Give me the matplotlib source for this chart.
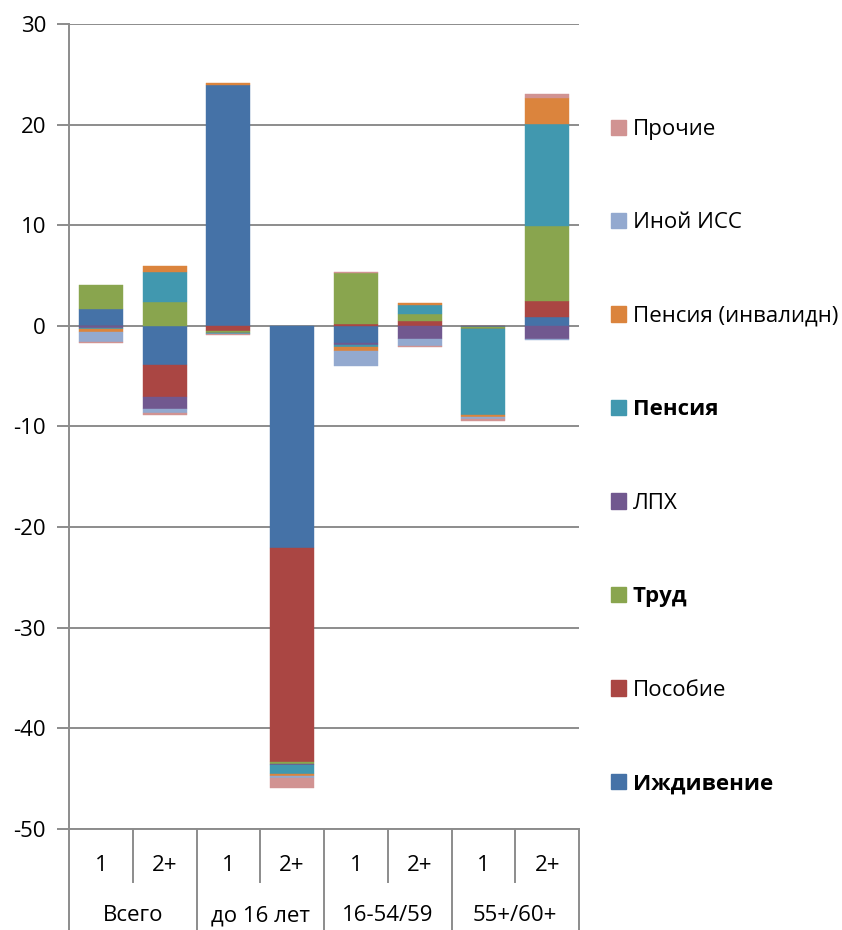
import matplotlib
matplotlib.use("Agg")
import matplotlib.pyplot as plt
from matplotlib.patches import Patch
import numpy as np

plt.rcParams['font.family'] = ['Open Sans', 'DejaVu Sans']
plt.rcParams['axes.unicode_minus'] = False

groups = ["Всего", "до 16 лет", "16-54/59", "55+/60+"]
subs = ["1", "2+"]

series_names = ["Иждивение", "Пособие", "Труд", "ЛПХ", "Пенсия",
                "Пенсия (инвалидн)", "Иной ИСС", "Прочие"]
izhdivenie = [1.65, -3.9, 23.95, -22.05, -1.75, 0.0, -0.15, 0.85]
posobie = [-0.05, -3.2, -0.55, -21.3, 0.15, 0.45, 0.0, 1.6]
trud = [2.4, 2.4, -0.15, -0.15, 5.1, 0.75, -0.15, 7.5]
lph = [-0.2, -1.15, -0.05, -0.15, -0.15, -1.35, -0.05, -1.35]
pensiya = [-0.05, 3.0, -0.05, -0.85, -0.15, 0.85, -8.55, 10.1]
pensiya_inv = [-0.3, 0.55, 0.15, -0.25, -0.45, 0.2, -0.2, 2.55]
inoy_iss = [-1.0, -0.4, -0.05, -0.15, -1.45, -0.65, -0.2, -0.1]
prochie = [-0.15, -0.25, -0.1, -1.0, 0.15, -0.1, -0.15, 0.45]

series = [izhdivenie, posobie, trud, lph, pensiya, pensiya_inv, inoy_iss, prochie]
colors = ["#4572A7", "#AA4643", "#89A54E", "#71588F", "#4198AF",
          "#DB843D", "#93A9CF", "#D19392"]
bold = {"Иждивение", "Труд", "Пенсия"}

grid_c = "#8c8c8c"
fs = 16

fig = plt.figure(figsize=(8.42, 9.30), dpi=100)
ax = fig.add_axes([69 / 842, 1 - 829 / 930, 510 / 842, 805 / 930])

x = np.arange(len(groups) * len(subs))
pos_bottom = np.zeros(len(x))
neg_bottom = np.zeros(len(x))
handles = []
for name, vals, col in zip(series_names, series, colors):
    v = np.array(vals)
    bottom = np.where(v >= 0, pos_bottom, neg_bottom)
    ax.bar(x, v, 0.69, bottom=bottom, color=col, edgecolor=col,
           linewidth=0.3, zorder=3)
    pos_bottom += np.where(v >= 0, v, 0)
    neg_bottom += np.where(v < 0, v, 0)
    handles.append(Patch(facecolor=col, edgecolor=col, label=name))

ax.set_xlim(-0.5, len(x) - 0.5)
ax.set_ylim(-50, 30)
ax.set_yticks(np.arange(-50, 31, 10))
ax.yaxis.grid(True, color=grid_c, linewidth=1.4, zorder=0)
ax.tick_params(axis='y', length=9, width=1.4, color=grid_c, pad=7.5,
               labelsize=fs)
ax.set_xticks([])
for s in ["top", "right"]:
    ax.spines[s].set_visible(False)
for s in ["left", "bottom"]:
    ax.spines[s].set_color(grid_c)
    ax.spines[s].set_linewidth(1.4)

# two-level category axis
trans = ax.get_xaxis_transform()
for k in range(len(groups) + 1):
    ax.plot([k * 2 - 0.5] * 2, [0, -0.13], color=grid_c, lw=1.4,
            transform=trans, clip_on=False)
for k in range(len(groups)):
    ax.plot([k * 2 + 0.5] * 2, [0, -0.066], color=grid_c, lw=1.4,
            transform=trans, clip_on=False)
    ax.text(k * 2 + 0.5, -0.108, groups[k], transform=trans,
            ha='center', va='center', fontsize=fs)
    for j, s in enumerate(subs):
        ax.text(k * 2 + j, -0.0455, s, transform=trans,
                ha='center', va='center', fontsize=fs)

leg = fig.legend(handles[::-1], series_names[::-1], loc='upper left',
                 bbox_to_anchor=(591 / 842, 1 - 99 / 930), frameon=False,
                 fontsize=fs, handlelength=0.68, handleheight=0.68,
                 handletextpad=0.3, labelspacing=3.26)
for t in leg.get_texts():
    if t.get_text() in bold:
        t.set_fontweight('bold')

fig.savefig("out.png", dpi=100)
